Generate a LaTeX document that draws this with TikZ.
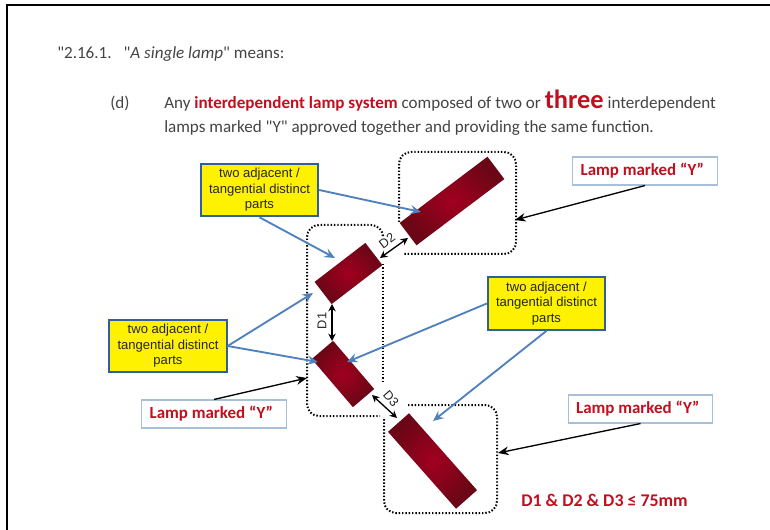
\documentclass[tikz,border=0pt]{standalone}
\usepackage{xcolor}
\usepackage{fontspec}
\setmainfont{Carlito}[Ligatures=TeXOff]
\newfontfamily\boxfont{Liberation Sans}
\usetikzlibrary{arrows.meta}

\definecolor{lampred}{HTML}{A2001F}
\definecolor{lampdark}{HTML}{6A0616}
\definecolor{textred}{HTML}{C00F1E}
\definecolor{textgrey}{HTML}{444444}
\definecolor{blueline}{HTML}{4F81BD}
\definecolor{blueedge}{HTML}{2F5F9E}
\definecolor{greyedge}{HTML}{A9BFD6}

\tikzset{
    lamp/.style={shade, inner color=lampred, outer color=lampdark, inner sep=0pt, minimum height=21pt},
    partsbox/.style={draw=blueedge, line width=1.5pt, fill=yellow, inner sep=0pt, minimum width=88pt, minimum height=39.5pt, align=center, font=\boxfont\fontsize{9.8}{11.6}\selectfont, text=black!85},
    markbox/.style={draw=greyedge, line width=0.8pt, fill=white, inner sep=0pt, minimum width=108.5pt, minimum height=21pt, font=\bfseries\fontsize{12.7}{14}\selectfont, text=textred},
    lampbox/.style={line width=1.5pt, dash pattern=on 1.1pt off 1.4pt, rounded corners=9pt},
    bluearrow/.style={draw=blueline, line width=1.4pt, -{Stealth[length=8pt,width=7pt,inset=3pt]}},
    blackarrow/.style={draw=black, line width=1pt, -{Stealth[length=8pt,width=6.5pt]}},
    gaparrow/.style={draw=black, line width=1pt, {Stealth[length=5.5pt,width=5.5pt]}-{Stealth[length=5.5pt,width=5.5pt]}},
    gaplabel/.style={font=\boxfont\fontsize{9.6}{10}\selectfont, text=black!85, inner sep=0pt},
    headtext/.style={anchor=base west, inner sep=0pt, text=textgrey, font=\fontsize{12.8}{14}\selectfont},
}

\begin{document}
\begin{tikzpicture}[x=0.75pt, y=-0.75pt]
    \useasboundingbox (0, 0) rectangle (770, 530);

    % page edge
    \draw[line width=1pt] (7, 530) -- (7, 5) -- (770, 5);

    % heading
    \node[headtext] (clause) at (57, 59) {"2.16.1.\hspace{9pt}"\textit{A single lamp}" means:};
    \node[headtext] (item) at (110, 109) {(d)};
    \node[headtext] (lineone) at (164, 109) {Any \textcolor{textred}{\textbf{interdependent lamp system}} composed of two or \textcolor{textred}{\textbf{\fontsize{19.8}{20}\selectfont three}} interdependent};
    \node[headtext] (linetwo) at (164, 132.5) {lamps marked "Y" approved together and providing the same function.};

    % dotted groups, open where a lamp sits on them
    \draw[lampbox] (399, 222) -- (399, 152) -- (516, 152) -- (516, 254) -- (403, 254);
    \draw[lampbox] (307, 300) -- (307, 225) -- (383, 225) -- (383, 233);
    \draw[lampbox] (383, 264) -- (383, 383);
    \draw[lampbox] (307, 300) -- (307, 416) -- (380, 416);
    \draw[lampbox] (408, 405) -- (497, 405) -- (497, 513) -- (384, 513) -- (384, 417);

    % lamps
    \node[lamp, minimum width=82.5pt, rotate=37] (lampA) at (452, 201) {};
    \node[lamp, minimum width=48pt, rotate=37.5] (lampB) at (348.5, 273.5) {};
    \node[lamp, minimum width=47.5pt, rotate=-49.5] (lampC) at (343, 374) {};
    \node[lamp, minimum width=77pt, rotate=-48.5] (lampD) at (432.5, 461) {};

    % call-outs
    \node[partsbox] (partsA) at (259.5, 190) {two adjacent /\\tangential distinct\\parts};
    \node[partsbox] (partsB) at (168, 346) {two adjacent /\\tangential distinct\\parts};
    \node[partsbox] (partsC) at (546.5, 303.5) {two adjacent /\\tangential distinct\\parts};
    \node[markbox] (markA) at (645, 171) {Lamp marked “Y”\hspace*{4pt}};
    \node[markbox] (markB) at (214, 414) {Lamp marked “Y”\hspace*{4pt}};
    \node[markbox] (markC) at (640.5, 409) {Lamp marked “Y”\hspace*{4pt}};
    \node[anchor=base west, inner sep=0pt, text=textred, font=\bfseries\fontsize{13.4}{15}\selectfont] (limit) at (521, 506) {D1 \& D2 \& D3 ≤ 75mm};

    % arrow ends
    \coordinate (tipAA) at (421, 212);
    \coordinate (tipAB) at (335, 258);
    \coordinate (tipBB) at (313, 293);
    \coordinate (tipBC) at (318, 362);
    \coordinate (tipCC) at (347, 362);
    \coordinate (tipCD) at (433, 421);
    \coordinate (markTipA) at (515, 220);
    \coordinate (markTipB) at (307, 378);
    \coordinate (markTipC) at (498, 453);
    \coordinate (gapOneA) at (332, 304);
    \coordinate (gapOneB) at (332, 341);
    \coordinate (gapTwoA) at (380, 258);
    \coordinate (gapTwoB) at (408, 238);
    \coordinate (gapThreeA) at (372, 395);
    \coordinate (gapThreeB) at (397, 418);

    \draw[bluearrow] (partsA.east) -- (tipAA);
    \draw[bluearrow] (partsA.south) -- (tipAB);
    \draw[bluearrow] (partsB.east) -- (tipBB);
    \draw[bluearrow] (partsB.east) -- (tipBC);
    \draw[bluearrow] (partsC.west) -- (tipCC);
    \draw[bluearrow] (partsC.south) -- (tipCD);
    \draw[blackarrow] (markA.south) -- (markTipA);
    \draw[blackarrow] (markB.north) -- (markTipB);
    \draw[blackarrow] (markC.south) -- (markTipC);

    \draw[gaparrow] (gapOneA) -- (gapOneB);
    \draw[gaparrow] (gapTwoA) -- (gapTwoB);
    \draw[gaparrow] (gapThreeA) -- (gapThreeB);
    \node[gaplabel, rotate=90] (labelOne) at (322, 321) {D1};
    \node[gaplabel, rotate=37] (labelTwo) at (387, 241) {D2};
    \node[gaplabel, rotate=-48] (labelThree) at (391, 399) {D3};
\end{tikzpicture}
\end{document}
